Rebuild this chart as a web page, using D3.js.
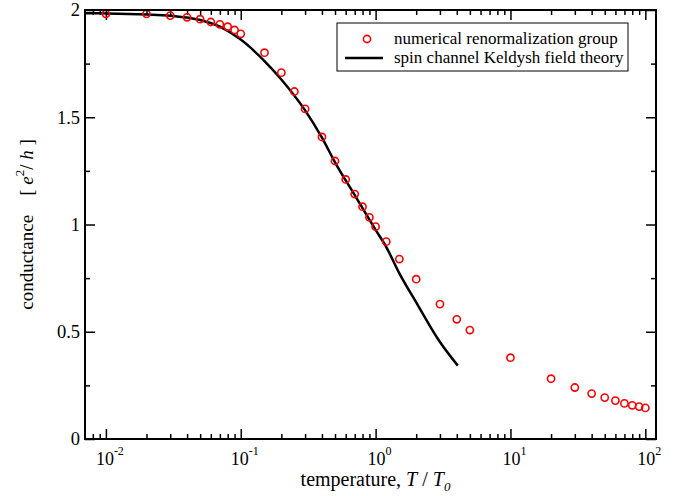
<!DOCTYPE html>
<html>
<head>
<meta charset="utf-8">
<script src="https://cdn.jsdelivr.net/npm/d3@7"></script>
<style>
  body { margin: 0; background: #fff; }
  svg { font-family: "Liberation Serif", "Times New Roman", serif; }
</style>
</head>
<body>
<div id="chart"></div>
<script>
// NRG data points (temperature T/T0, conductance in e^2/h)
const nrgT = [0.01, 0.02, 0.03, 0.04, 0.05, 0.06, 0.07, 0.08, 0.09, 0.1,
              0.15, 0.2, 0.25, 0.3, 0.4, 0.5, 0.6, 0.7, 0.8, 0.9, 1,
              1.2, 1.5, 2, 3, 4, 5, 10, 20, 30, 40, 50, 60, 70, 80, 90, 100];
const nrgG = [1.982, 1.982, 1.974, 1.966, 1.957, 1.944, 1.933, 1.922, 1.907, 1.889,
              1.801, 1.708, 1.620, 1.539, 1.408, 1.296, 1.210, 1.142, 1.083, 1.033, 0.990,
              0.920, 0.839, 0.745, 0.629, 0.558, 0.508, 0.379, 0.281, 0.240, 0.212, 0.193,
              0.179, 0.166, 0.157, 0.151, 0.145];

// Keldysh field theory curve
const kT = [0.007, 0.01, 0.02, 0.03, 0.05, 0.07, 0.1, 0.15, 0.2, 0.3, 0.4, 0.5,
            0.7, 1, 1.2, 1.5, 2, 3, 4.07];
const kG = [1.985, 1.984, 1.979, 1.973, 1.953, 1.922, 1.862, 1.762, 1.676, 1.532, 1.405, 1.29,
            1.137, 0.975, 0.895, 0.772, 0.637, 0.452, 0.342];

const xMajor = [0.01, 0.1, 1, 10, 100];
const xExp = ["-2", "-1", "0", "1", "2"];
const yMajor = [0, 0.5, 1, 1.5, 2];
const yLabels = ["0", "0.5", "1", "1.5", "2"];
const yMinor = [0.25, 0.75, 1.25, 1.75];

const legendLabels = ["numerical renormalization group", "spin channel Keldysh field theory"];

const width = 674, height = 496;
const margin = {top: 10, right: 18, bottom: 57, left: 85};

const svg = d3.select("#chart").append("svg")
    .attr("width", width)
    .attr("height", height);

const x = d3.scaleLog()
    .domain([0.007, 120])
    .range([margin.left, width - margin.right]);
const y = d3.scaleLinear()
    .domain([0, 2])
    .range([height - margin.bottom, margin.top]);

// minor x ticks 2..9 per decade inside domain
const xMinor = [];
[0.001, 0.01, 0.1, 1, 10, 100].forEach(d => {
    for (let k = 2; k <= 9; k++) {
        const v = d * k;
        if (v > x.domain()[0] && v < x.domain()[1]) xMinor.push(v);
    }
});

const yBot = height - margin.bottom, yTop = margin.top;
const xLeft = margin.left, xRight = width - margin.right;

function axisGroup(axis, tx, ty) {
    const g = svg.append("g")
        .attr("transform", "translate(" + tx + "," + ty + ")")
        .call(axis);
    g.select(".domain").remove();
    g.selectAll(".tick line").attr("stroke", "#000").attr("stroke-width", 1.5);
    return g;
}

// bottom / top axes
axisGroup(d3.axisBottom(x).tickValues(xMajor).tickSize(-10).tickFormat(""), 0, yBot);
axisGroup(d3.axisBottom(x).tickValues(xMinor).tickSize(-5).tickFormat(""), 0, yBot);
axisGroup(d3.axisTop(x).tickValues(xMajor).tickSize(-10).tickFormat(""), 0, yTop);
axisGroup(d3.axisTop(x).tickValues(xMinor).tickSize(-5).tickFormat(""), 0, yTop);

// left / right axes
axisGroup(d3.axisLeft(y).tickValues(yMajor).tickSize(-10).tickFormat(""), xLeft, 0);
axisGroup(d3.axisLeft(y).tickValues(yMinor).tickSize(-5).tickFormat(""), xLeft, 0);
axisGroup(d3.axisRight(y).tickValues(yMajor).tickSize(-10).tickFormat(""), xRight, 0);
axisGroup(d3.axisRight(y).tickValues(yMinor).tickSize(-5).tickFormat(""), xRight, 0);

// x tick labels 10^n
const xl = svg.append("g").selectAll("text")
    .data(xMajor)
    .join("text")
    .attr("x", d => x(d) + 4)
    .attr("y", yBot + 26)
    .attr("text-anchor", "middle")
    .attr("font-size", 18);
xl.append("tspan").text("10");
xl.append("tspan")
    .attr("dy", -10)
    .attr("font-size", 12)
    .text((d, i) => xExp[i]);

// y tick labels
svg.append("g").selectAll("text")
    .data(yMajor)
    .join("text")
    .attr("x", xLeft - 5)
    .attr("y", d => y(d))
    .attr("dy", "0.35em")
    .attr("text-anchor", "end")
    .attr("font-size", 18.5)
    .text((d, i) => yLabels[i]);

// curve
const line = d3.line()
    .x((d, i) => x(kT[i]))
    .y(d => y(d))
    .curve(d3.curveMonotoneX);

svg.append("path")
    .datum(kG)
    .attr("d", line)
    .attr("fill", "none")
    .attr("stroke", "#000")
    .attr("stroke-width", 2.5);

// NRG circles
svg.append("g").selectAll("circle")
    .data(nrgG)
    .join("circle")
    .attr("cx", (d, i) => x(nrgT[i]))
    .attr("cy", d => y(d))
    .attr("r", 3.6)
    .attr("fill", "none")
    .attr("stroke", "#ff0000")
    .attr("stroke-width", 1.6);

// frame
svg.append("rect")
    .attr("x", xLeft).attr("y", yTop)
    .attr("width", xRight - xLeft).attr("height", yBot - yTop)
    .attr("fill", "none")
    .attr("stroke", "#000")
    .attr("stroke-width", 2);

// axis titles
const xt = svg.append("text")
    .attr("x", (xLeft + xRight) / 2 + 5)
    .attr("y", 486)
    .attr("text-anchor", "middle")
    .attr("font-size", 20);
xt.append("tspan").text("temperature, ");
xt.append("tspan").attr("font-style", "italic").text("T");
xt.append("tspan").text(" / ");
xt.append("tspan").attr("font-style", "italic").text("T");
xt.append("tspan").attr("font-style", "italic").attr("font-size", 13).attr("dy", 5).text("0");

const yt = svg.append("text")
    .attr("transform", "translate(33," + (yTop + yBot) / 2 + ") rotate(-90)")
    .attr("text-anchor", "middle")
    .attr("font-size", 19)
    .attr("xml:space", "preserve");
yt.append("tspan").text("conductance    [ ");
yt.append("tspan").attr("font-style", "italic").text("e");
yt.append("tspan").attr("font-size", 13).attr("dy", -9).text("2");
yt.append("tspan").attr("dy", 9).text("/ ");
yt.append("tspan").attr("font-style", "italic").text("h");
yt.append("tspan").text(" ]");

// legend
const lg = svg.append("g");
lg.append("rect")
    .attr("x", 337).attr("y", 23)
    .attr("width", 291).attr("height", 48)
    .attr("fill", "#fff")
    .attr("stroke", "#000")
    .attr("stroke-width", 1);
lg.append("circle")
    .attr("cx", 367).attr("cy", 39).attr("r", 3.6)
    .attr("fill", "none").attr("stroke", "#ff0000").attr("stroke-width", 1.6);
lg.append("line")
    .attr("x1", 345).attr("x2", 383).attr("y1", 58).attr("y2", 58)
    .attr("stroke", "#000").attr("stroke-width", 2.5);
lg.selectAll("text.lab")
    .data(legendLabels)
    .join("text")
    .attr("class", "lab")
    .attr("x", 394)
    .attr("y", (d, i) => 44 + i * 19)
    .attr("font-size", 17)
    .text(d => d);
</script>
</body>
</html>
